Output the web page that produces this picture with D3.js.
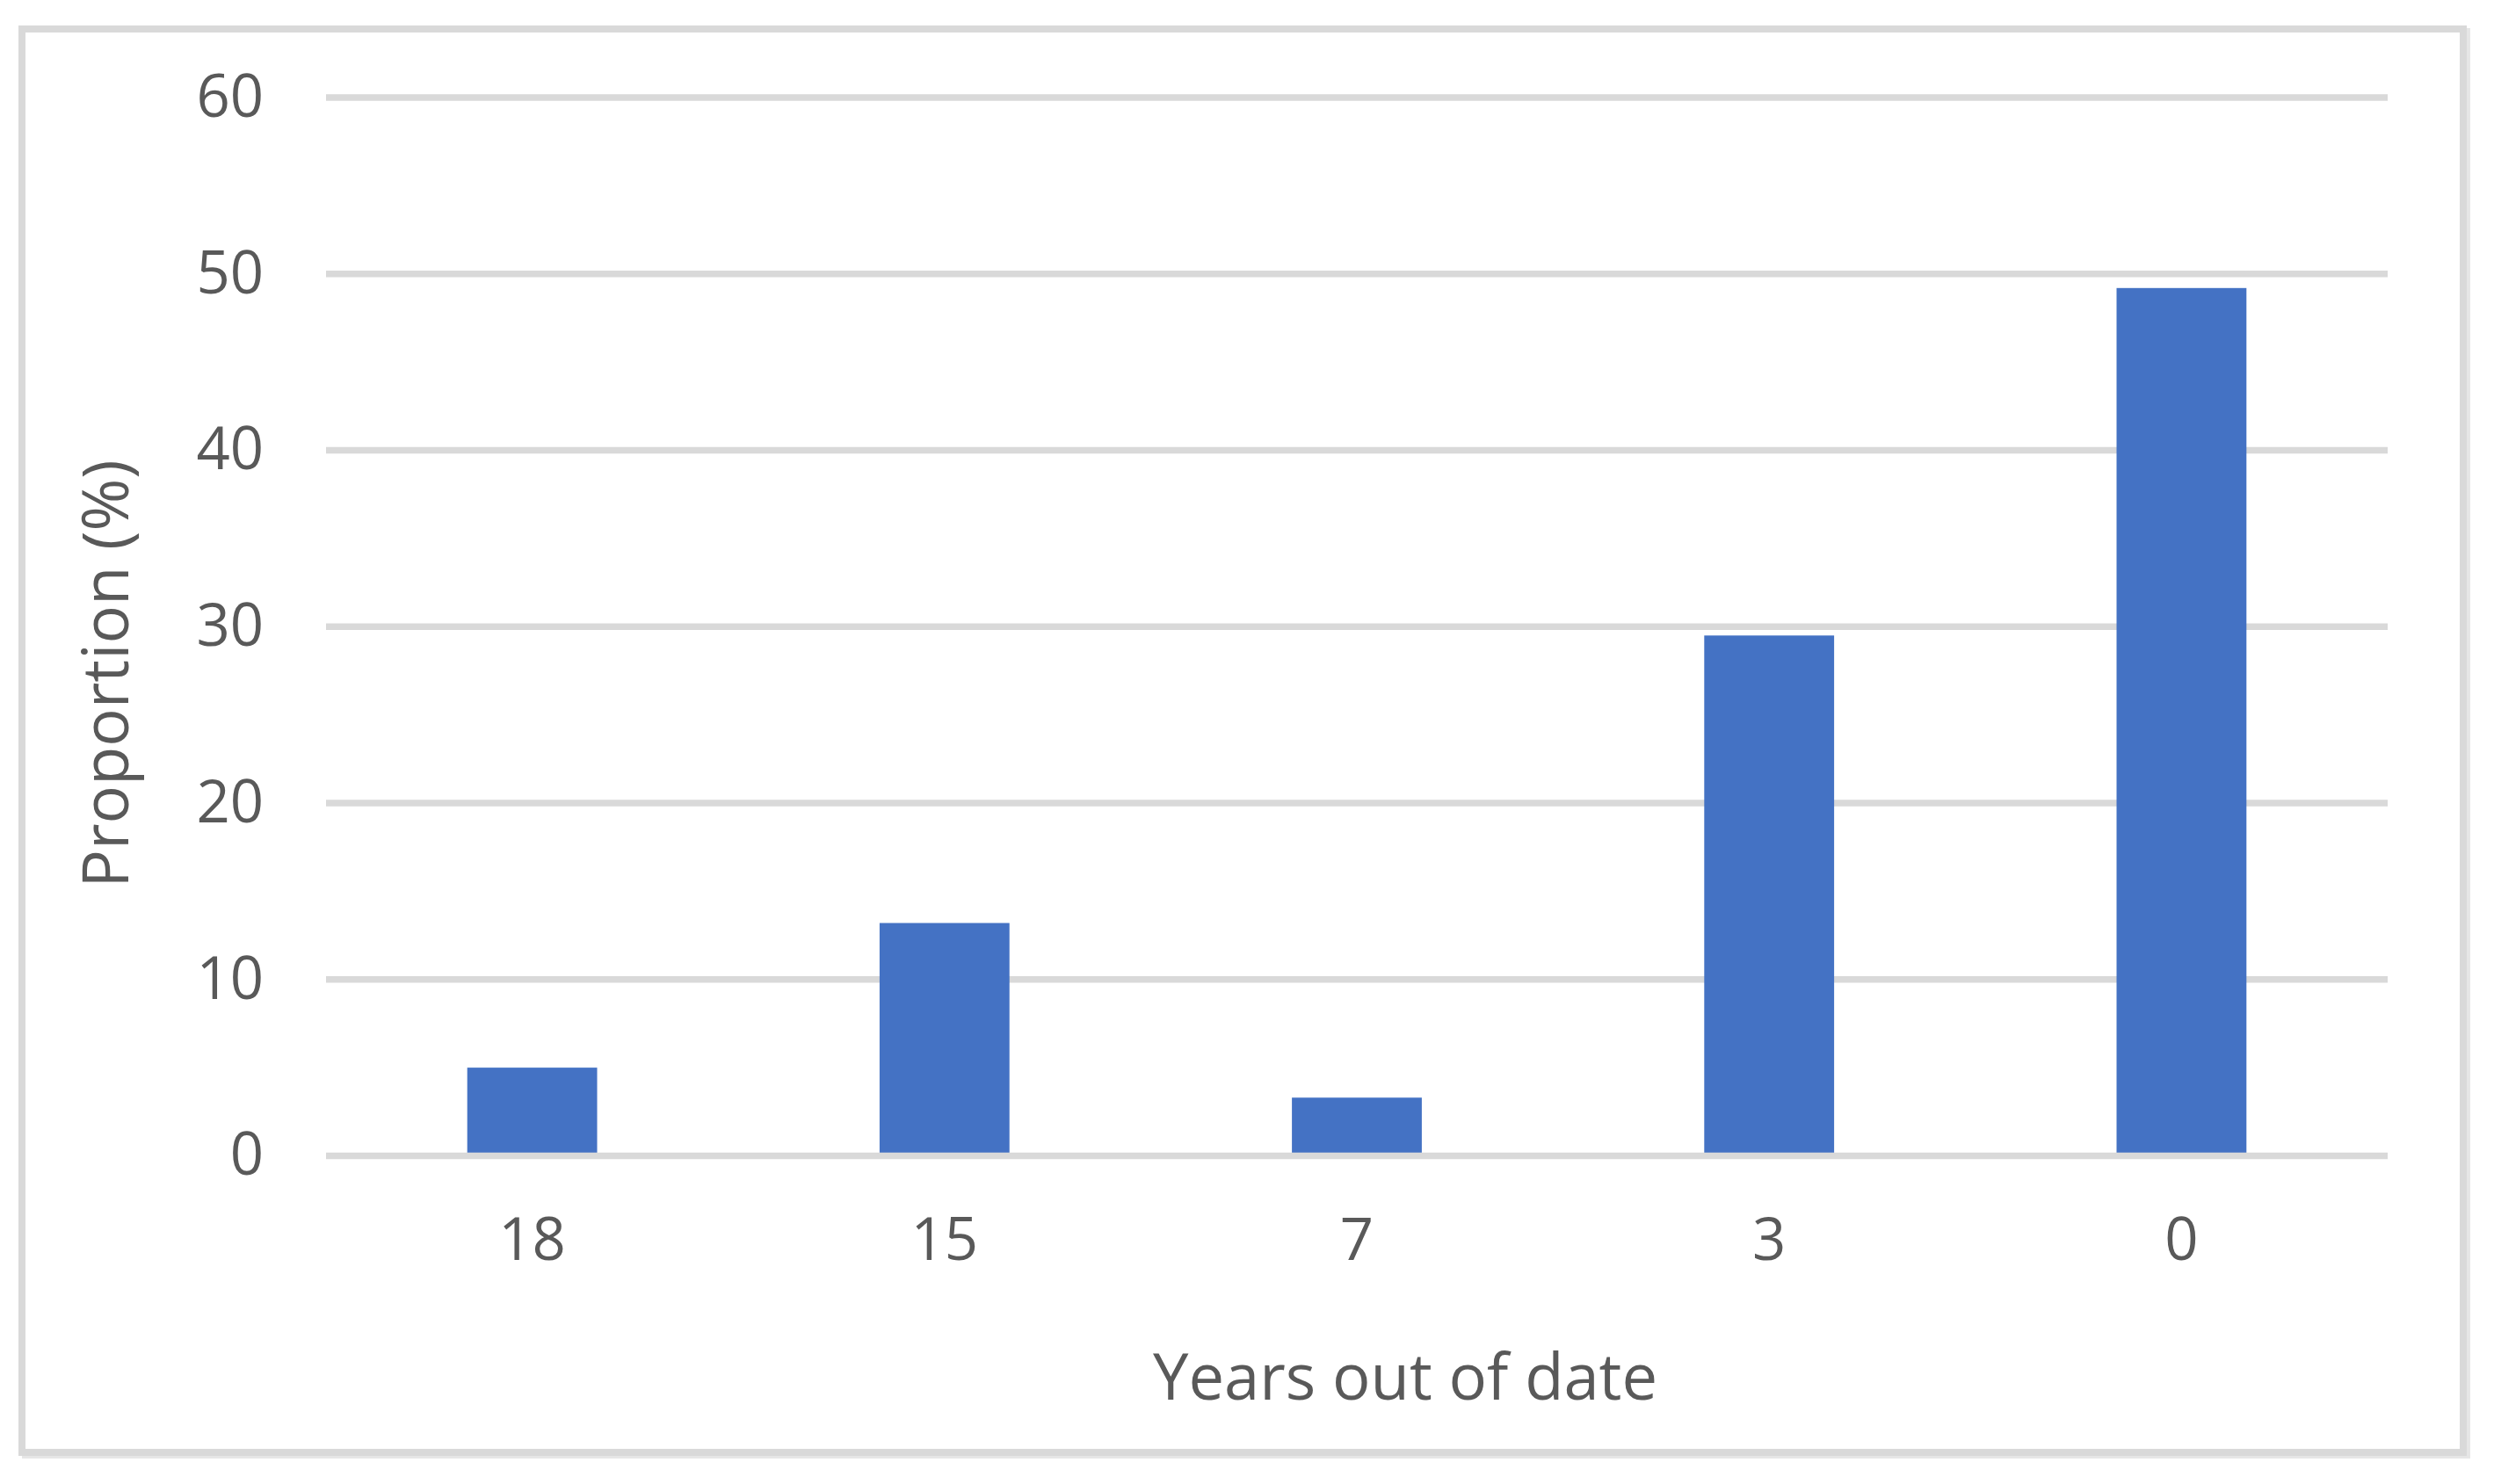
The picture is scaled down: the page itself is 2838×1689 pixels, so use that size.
<!DOCTYPE html>
<html>
<head>
<meta charset="utf-8">
<script src="https://cdn.jsdelivr.net/npm/d3@7"></script>
<style>
  html, body { margin: 0; padding: 0; background: #ffffff; }
  svg { display: block; }
</style>
</head>
<body>
<script>
// ---- data ----
const categories = ["18", "15", "7", "3", "0"];
const proportions = [5.0, 13.2, 3.3, 29.5, 49.2];
const yTicks = [0, 10, 20, 30, 40, 50, 60];
const xTitle = "Years out of date";
const yTitle = "Proportion (%)";

// ---- layout ----
const W = 2838, H = 1689;
const plot = { left: 371, right: 2717, top: 111, bottom: 1315.5 };
const textColor = "#595959";
const gridColor = "#d9d9d9";
const barColor = "#4472C4";
const font = "'Open Sans', 'Noto Sans', sans-serif";

const svg = d3.select("body").append("svg")
  .attr("width", W).attr("height", H);

svg.append("rect").attr("width", W).attr("height", H).attr("fill", "#ffffff");

// frame with faint shadow
svg.append("rect")
  .attr("x", 29).attr("y", 36).attr("width", 2778).attr("height", 1620)
  .attr("fill", "none").attr("stroke", "#e6e6e6").attr("stroke-width", 8);
svg.append("rect")
  .attr("x", 25).attr("y", 33).attr("width", 2778).attr("height", 1620)
  .attr("fill", "#ffffff").attr("stroke", gridColor).attr("stroke-width", 8);

const x = d3.scaleBand()
  .domain(categories)
  .range([plot.left, plot.right])
  .paddingInner(0.685)
  .paddingOuter(0.3425);

const y = d3.scaleLinear()
  .domain([0, 60])
  .range([plot.bottom, plot.top]);

// gridlines (behind bars)
svg.append("g").selectAll("line")
  .data(yTicks.filter(d => d !== 0))
  .join("line")
  .attr("x1", plot.left).attr("x2", plot.right)
  .attr("y1", d => y(d)).attr("y2", d => y(d))
  .attr("stroke", gridColor).attr("stroke-width", 7.5);

// bars
svg.append("g").selectAll("rect")
  .data(categories.map((c, i) => ({ c, v: proportions[i] })))
  .join("rect")
  .attr("x", d => x(d.c))
  .attr("width", x.bandwidth())
  .attr("y", d => y(d.v))
  .attr("height", d => y(0) - y(d.v))
  .attr("fill", barColor);

// baseline (on top of bars)
svg.append("line")
  .attr("x1", plot.left).attr("x2", plot.right)
  .attr("y1", y(0)).attr("y2", y(0))
  .attr("stroke", gridColor).attr("stroke-width", 7.5);

// y axis labels
const yAxis = svg.append("g")
  .attr("transform", `translate(${plot.left},0)`)
  .call(d3.axisLeft(y).tickValues(yTicks).tickSize(0).tickPadding(71).tickFormat(d3.format("d")));
yAxis.select(".domain").remove();
yAxis.selectAll("text")
  .attr("fill", textColor)
  .style("font-family", font)
  .style("font-size", "67px");

// x axis labels
const xAxis = svg.append("g")
  .attr("transform", `translate(0,${plot.bottom})`)
  .call(d3.axisBottom(x).tickSize(0).tickPadding(71));
xAxis.select(".domain").remove();
xAxis.selectAll("text")
  .attr("fill", textColor)
  .style("font-family", font)
  .style("font-size", "67px");

// axis titles
svg.append("text")
  .attr("x", 1599).attr("y", 1593)
  .attr("text-anchor", "middle")
  .attr("fill", textColor)
  .attr("textLength", 574).attr("lengthAdjust", "spacingAndGlyphs")
  .style("font-family", font).style("font-size", "74px")
  .text(xTitle);

svg.append("text")
  .attr("transform", "translate(146,767) rotate(-90)")
  .attr("text-anchor", "middle")
  .attr("fill", textColor)
  .attr("textLength", 487).attr("lengthAdjust", "spacingAndGlyphs")
  .style("font-family", font).style("font-size", "74px")
  .text(yTitle);
</script>
</body>
</html>
